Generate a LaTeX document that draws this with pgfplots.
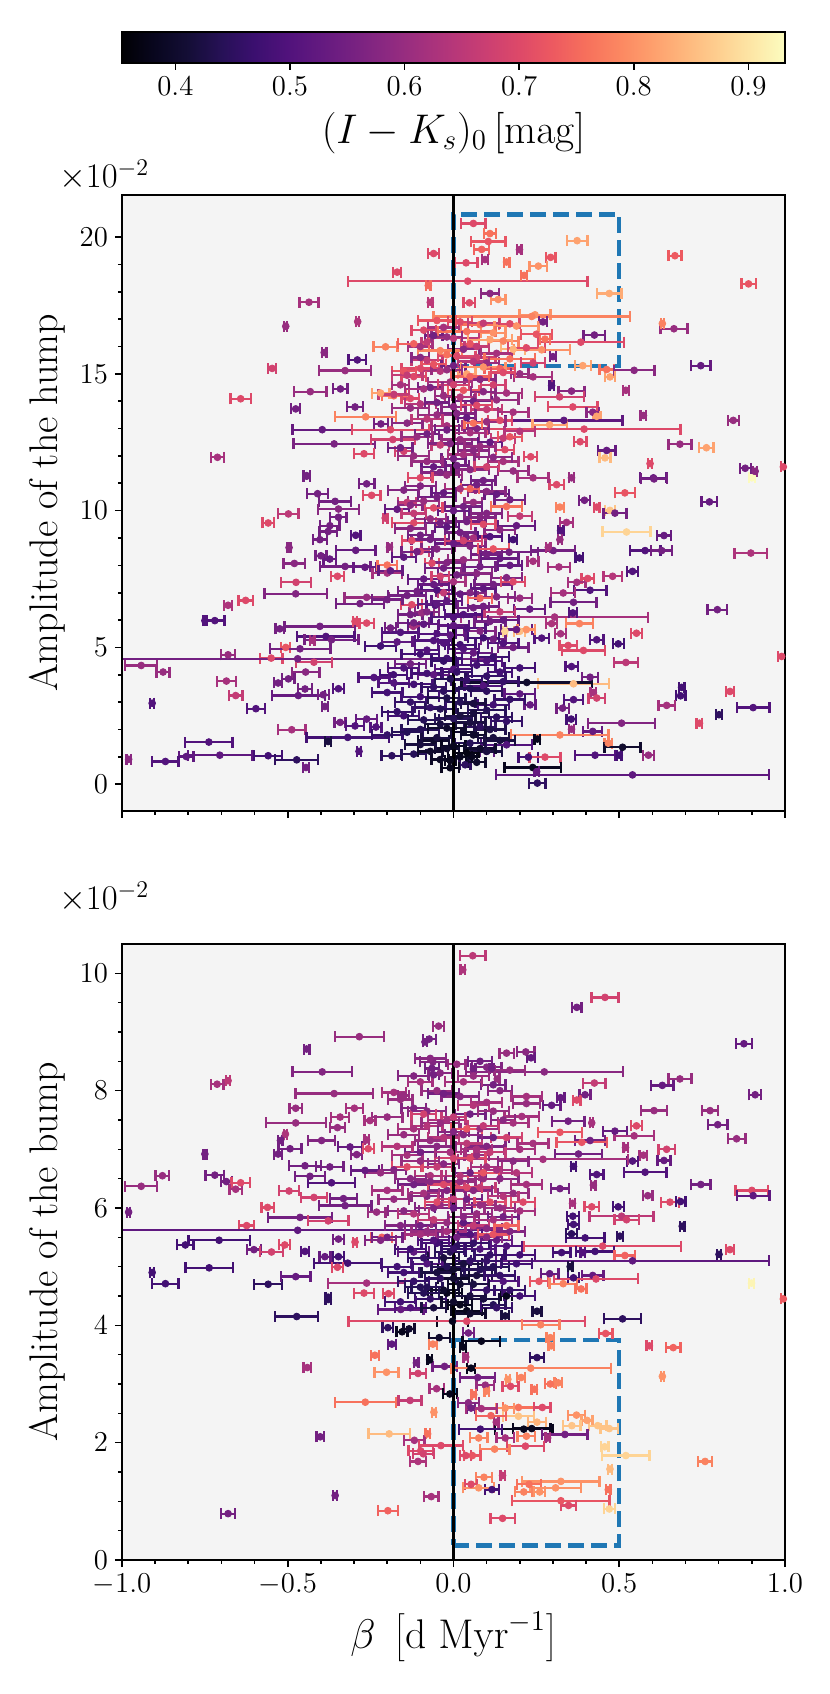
\documentclass[border=0pt]{standalone}
\usepackage{pgfplots}
\pgfplotsset{compat=1.18}
\usepackage{pgfplotstable}
\usetikzlibrary{arrows.meta}
\definecolor{bgc}{RGB}{244,244,244}
\definecolor{tabblue}{RGB}{31,119,180}
\pgfplotsset{colormap={magma}{
rgb=(0.001462,0.000466,0.013866) rgb=(0.034,0.027,0.122) rgb=(0.078815,0.054184,0.211667)
rgb=(0.151,0.066,0.340) rgb=(0.232077,0.059889,0.437695) rgb=(0.316654,0.071690,0.485380)
rgb=(0.390384,0.100379,0.501864) rgb=(0.468,0.131,0.507) rgb=(0.550287,0.161158,0.505719)
rgb=(0.633,0.188,0.494) rgb=(0.716387,0.214982,0.475290) rgb=(0.797,0.247,0.447)
rgb=(0.868793,0.287728,0.409303) rgb=(0.929,0.352,0.378) rgb=(0.967671,0.439703,0.359810)
rgb=(0.987,0.531,0.382) rgb=(0.994738,0.624350,0.427397) rgb=(0.997,0.719,0.490)
rgb=(0.995131,0.812384,0.564540) rgb=(0.992,0.904,0.652) rgb=(0.987053,0.991438,0.749504)}}
\pgfdeclarehorizontalshading{magmashade}{100bp}{
rgb(0bp)=(0.001462,0.000466,0.013866);
rgb(25bp)=(0.001462,0.000466,0.013866);
rgb(27.5bp)=(0.034,0.027,0.122);
rgb(30bp)=(0.078815,0.054184,0.211667);
rgb(32.5bp)=(0.151,0.066,0.340);
rgb(35bp)=(0.232077,0.059889,0.437695);
rgb(37.5bp)=(0.316654,0.071690,0.485380);
rgb(40bp)=(0.390384,0.100379,0.501864);
rgb(42.5bp)=(0.468,0.131,0.507);
rgb(45bp)=(0.550287,0.161158,0.505719);
rgb(47.5bp)=(0.633,0.188,0.494);
rgb(50bp)=(0.716387,0.214982,0.475290);
rgb(52.5bp)=(0.797,0.247,0.447);
rgb(55bp)=(0.868793,0.287728,0.409303);
rgb(57.5bp)=(0.929,0.352,0.378);
rgb(60bp)=(0.967671,0.439703,0.359810);
rgb(62.5bp)=(0.987,0.531,0.382);
rgb(65bp)=(0.994738,0.624350,0.427397);
rgb(67.5bp)=(0.997,0.719,0.490);
rgb(70bp)=(0.995131,0.812384,0.564540);
rgb(72.5bp)=(0.992,0.904,0.652);
rgb(75bp)=(0.987053,0.991438,0.749504);
rgb(100bp)=(0.987053,0.991438,0.749504)}

\pgfplotsset{
 myax/.style={
  scale only axis, width=331.5pt, height=308pt,
  xmin=-1, xmax=1,
  axis background/.style={fill=bgc},
  axis line style={line width=0.8pt},
  tick style={line width=0.8pt, black},
  major tick length=3.5pt, minor tick length=2pt,
  tick align=outside, xtick pos=left, ytick pos=left,
  xtick={-1,-0.5,0,0.5,1}, minor x tick num=4,
  tick label style={font=\fontsize{14.5}{17}\selectfont},
  label style={font=\fontsize{20}{24}\selectfont},
  point meta min=0.3534, point meta max=0.932,
  colormap name=magma,
  axis on top,
 },
 errbars/.style={
  quiver={u=2*\thisrow{e}, v=0, colored=mapped color},
  {Bar[width=5.5pt]}-{Bar[width=5.5pt]}, line width=1.15pt,
  point meta=explicit,
 },
 dots/.style={
  only marks, scatter, mark=*, mark size=1.7pt,
  point meta=explicit,
  scatter/use mapped color={draw=mapped color, fill=mapped color},
 },
}

\pgfplotstableread{
x e y c
-0.06 0.02 19.4 0.70
-0.17 0.015 18.72 0.70
0.043 0.365 18.39 0.70
-0.436 0.032 17.62 0.62
-0.506 0.008 16.74 0.60
-0.289 0.008 16.91 0.63
-0.07 0.01 17.62 0.65
-0.205 0.04 15.99 0.78
-0.39 0.01 15.78 0.58
-0.29 0.03 15.51 0.50
-0.547 0.015 15.2 0.68
-0.327 0.082 15.12 0.60
-0.432 0.052 14.35 0.60
-0.341 0.025 14.45 0.55
-0.642 0.034 14.09 0.70
-0.476 0.017 13.72 0.55
-0.297 0.028 13.79 0.55
-0.265 0.096 13.43 0.78
-0.396 0.093 12.96 0.53
-0.36 0.126 12.44 0.56
-0.27 0.033 12.08 0.70
-0.712 0.024 11.95 0.62
-0.443 0.013 11.28 0.55
-0.183 0.07 12.6 0.68
-0.219 0.025 13.17 0.55
-0.15 0.03 12.17 0.68
-0.19 0.12 12.96 0.70
-0.08 0.02 16.16 0.66
0.06 0.04 20.5 0.70
0.11 0.022 20.13 0.76
0.105 0.055 19.84 0.72
0.373 0.035 19.87 0.82
0.085 0.026 19.55 0.74
0.199 0.01 19.54 0.62
0.095 0.012 19.18 0.62
0.038 0.038 19.06 0.70
0.16 0.012 19.09 0.76
0.293 0.018 19.26 0.72
0.256 0.03 18.94 0.80
0.213 0.012 18.6 0.76
0.668 0.023 19.32 0.73
0.89 0.025 18.29 0.72
0.47 0.04 17.94 0.83
0.11 0.03 17.94 0.58
0.135 0.025 17.72 0.80
0.048 0.021 17.6 0.70
-0.076 0.01 18.23 0.75
0.246 0.05 17.16 0.80
0.236 0.3 17.1 0.78
0.17 0.033 16.83 0.70
0.27 0.015 16.9 0.55
0.665 0.044 16.65 0.60
0.63 0.008 16.84 0.78
0.425 0.036 16.42 0.55
0.384 0.133 16.16 0.70
0.276 0.018 16.27 0.76
0.266 0.088 15.88 0.80
0.3 0.012 15.63 0.55
0.39 0.028 15.3 0.82
0.462 0.025 15.16 0.76
0.545 0.065 15.13 0.58
0.746 0.033 15.3 0.53
0.472 0.018 14.89 0.82
0.24 0.06 14.89 0.62
0.52 0.012 14.4 0.62
0.356 0.043 14.37 0.58
0.296 0.01 14.57 0.50
0.32 0.078 14.16 0.68
0.36 0.078 13.79 0.70
0.42 0.022 13.6 0.58
0.432 0.015 13.45 0.82
0.573 0.012 13.48 0.60
0.844 0.02 13.3 0.60
0.333 0.18 13.3 0.52
0.29 0.055 13.14 0.82
0.394 0.294 12.98 0.70
0.382 0.023 12.52 0.70
0.462 0.03 12.2 0.53
0.457 0.02 11.93 0.85
0.683 0.038 12.43 0.60
0.763 0.025 12.3 0.82
0.593 0.01 11.72 0.70
0.233 0.023 11.97 0.70
0.155 0.03 12.23 0.70
0.88 0.02 11.55 0.55
0.9 0.012 11.2 0.93
0.91 0.01 11.44 0.58
0.603 0.043 11.2 0.53
0.995 0.01 11.6 0.70
-0.443 0.013 11.26 0.55
-0.262 0.027 10.98 0.55
-0.247 0.03 10.56 0.70
-0.41 0.035 10.62 0.55
-0.357 0.052 10.34 0.55
-0.498 0.034 9.88 0.65
-0.559 0.021 9.55 0.70
-0.347 0.065 10.06 0.58
-0.347 0.028 9.76 0.55
-0.373 0.033 9.45 0.55
-0.378 0.03 9.24 0.55
-0.295 0.018 9.1 0.50
-0.403 0.025 8.94 0.55
-0.496 0.008 8.65 0.58
-0.295 0.063 8.55 0.53
-0.193 0.01 8.67 0.60
-0.4 0.02 8.35 0.55
-0.373 0.023 8.23 0.53
-0.48 0.036 8.07 0.58
-0.327 0.08 7.96 0.55
-0.267 0.038 7.93 0.53
-0.2 0.033 8.01 0.76
-0.35 0.023 7.6 0.70
-0.475 0.048 7.38 0.68
-0.2 0.048 7.72 0.62
-0.476 0.098 6.96 0.57
-0.627 0.025 6.72 0.70
-0.68 0.015 6.54 0.63
-0.282 0.076 6.6 0.55
-0.262 0.07 6.83 0.60
-0.72 0.033 5.98 0.50
-0.75 0.008 5.98 0.50
-0.524 0.016 5.68 0.55
-0.403 0.11 5.77 0.55
-0.297 0.01 5.95 0.70
-0.262 0.025 5.89 0.70
-0.385 0.09 5.4 0.50
-0.426 0.01 5.26 0.62
-0.368 0.085 5.28 0.55
-0.506 0.017 5.0 0.72
-0.463 0.095 4.95 0.55
-0.68 0.025 4.73 0.60
-0.55 0.038 4.61 0.70
-0.47 0.6 4.585 0.55
-0.942 0.052 4.34 0.60
-0.876 0.023 4.1 0.60
-0.421 0.058 4.46 0.68
-0.446 0.045 4.1 0.58
-0.498 0.022 3.85 0.55
-0.685 0.032 3.77 0.62
-0.529 0.015 3.7 0.55
-0.657 0.024 3.24 0.66
-0.468 0.083 3.24 0.53
-0.448 0.025 3.48 0.55
-0.347 0.02 3.49 0.50
-0.393 0.02 3.27 0.55
-0.909 0.01 2.96 0.50
-0.596 0.03 2.76 0.50
-0.388 0.012 2.84 0.55
-0.488 0.045 1.99 0.62
-0.738 0.075 1.54 0.50
-0.319 0.128 1.71 0.48
-0.378 0.013 1.56 0.42
-0.705 0.1 1.06 0.52
-0.806 0.025 1.01 0.52
-0.869 0.043 0.83 0.50
-0.98 0.01 0.91 0.58
-0.559 0.046 1.04 0.48
-0.473 0.068 0.89 0.45
-0.445 0.012 0.61 0.55
-0.285 0.01 1.2 0.50
-0.186 0.035 1.04 0.45
-0.01 0.02 0.87 0.38
-0.342 0.02 2.26 0.55
-0.297 0.03 2.13 0.50
-0.234 0.02 2.09 0.50
-0.262 0.035 2.38 0.53
-0.126 0.033 8.91 0.70
-0.1 0.03 8.51 0.68
-0.12 0.07 9.55 0.70
-0.14 0.03 10.3 0.66
-0.206 0.01 9.73 0.68
-0.065 0.025 8.08 0.70
-0.126 0.035 6.56 0.70
-0.055 0.03 6.54 0.50
-0.096 0.04 6.26 0.60
-0.03 0.02 5.16 0.50
-0.03 0.02 7.0 0.66
-0.121 0.02 5.77 0.62
-0.181 0.045 4.0 0.48
-0.19 0.02 5.71 0.55
0.605 0.043 11.16 0.55
0.517 0.034 10.65 0.72
0.772 0.027 10.32 0.53
0.395 0.02 10.38 0.55
0.311 0.025 10.95 0.70
0.356 0.01 11.2 0.60
0.321 0.015 10.13 0.78
0.432 0.012 10.13 0.70
0.472 0.018 10.01 0.86
0.487 0.038 9.91 0.55
0.522 0.076 9.22 0.88
0.635 0.024 9.09 0.53
0.341 0.023 9.57 0.62
0.323 0.012 9.27 0.50
0.321 0.01 8.94 0.60
0.18 0.015 8.94 0.48
0.038 0.008 9.04 0.55
0.578 0.05 8.54 0.50
0.628 0.035 8.54 0.55
0.897 0.053 8.45 0.63
0.301 0.07 8.54 0.55
0.286 0.01 8.66 0.62
0.168 0.09 8.48 0.55
0.38 0.015 8.27 0.48
0.24 0.02 8.15 0.62
0.318 0.037 7.94 0.62
0.54 0.02 7.78 0.50
0.48 0.031 7.6 0.64
0.405 0.022 7.52 0.70
0.372 0.03 7.38 0.62
0.412 0.053 7.09 0.50
0.331 0.04 6.99 0.62
0.362 0.073 6.65 0.55
0.796 0.033 6.38 0.55
0.305 0.285 6.11 0.62
0.36 0.015 6.26 0.50
0.38 0.045 5.87 0.78
0.552 0.02 5.52 0.70
0.432 0.024 5.28 0.50
0.497 0.02 5.13 0.48
0.323 0.02 5.5 0.62
0.266 0.025 5.34 0.50
0.346 0.03 5.07 0.70
0.392 0.068 4.89 0.70
0.99 0.015 4.67 0.70
0.52 0.04 4.45 0.65
0.356 0.022 4.3 0.50
0.412 0.028 3.91 0.55
0.362 0.11 3.67 0.85
0.221 0.2 3.72 0.40
0.688 0.012 3.54 0.48
0.685 0.018 3.23 0.48
0.834 0.015 3.39 0.70
0.422 0.012 3.35 0.62
0.432 0.028 3.15 0.68
0.362 0.033 3.09 0.50
0.643 0.028 2.88 0.62
0.904 0.053 2.8 0.50
0.329 0.022 2.78 0.55
0.801 0.012 2.54 0.45
0.507 0.105 2.23 0.57
0.742 0.012 2.23 0.70
0.355 0.018 2.38 0.48
0.42 0.032 1.93 0.53
0.356 0.01 2.01 0.60
0.321 0.15 1.8 0.78
0.467 0.015 1.5 0.78
0.51 0.058 1.35 0.40
0.5 0.01 1.06 0.48
0.588 0.02 1.06 0.60
0.427 0.063 1.06 0.50
0.226 0.033 0.99 0.48
0.276 0.05 0.99 0.70
0.253 0.012 1.65 0.38
0.239 0.089 0.61 0.38
0.251 0.01 0.46 0.53
0.54 0.415 0.34 0.52
0.253 0.028 0.04 0.45
0.1 0.025 1.2 0.52
0.055 0.02 1.01 0.38
0.035 0.02 0.71 0.45
0.16 0.08 1.44 0.50
0.296 0.02 5.87 0.63
0.2 0.02 5.59 0.85
0.155 0.01 5.59 0.88
0.231 0.02 2.9 0.53
-0.22 0.03 14.3 0.82
-0.18 0.04 14.2 0.76
-0.13 0.03 14.1 0.70
-0.16 0.03 14.6 0.62
-0.1 0.06 15.2 0.70
-0.15 0.04 15.1 0.72
0.02 0.04 16.9 0.70
-0.03 0.05 16.7 0.62
0.08 0.06 16.8 0.76
0.12 0.04 16.5 0.80
-0.06 0.03 16.4 0.55
0.0 0.08 16.3 0.65
0.05 0.03 16.1 0.72
0.15 0.05 16.2 0.78
-0.1 0.04 16.0 0.62
0.03 0.05 15.9 0.58
0.18 0.04 15.9 0.84
-0.02 0.03 15.7 0.76
0.07 0.06 15.6 0.68
0.1 0.04 15.4 0.60
-0.08 0.05 15.5 0.66
0.0 0.04 15.3 0.55
0.14 0.05 15.2 0.74
-0.04 0.06 15.1 0.64
0.04 0.03 15.0 0.82
0.2 0.03 15.0 0.60
-0.12 0.04 14.9 0.70
0.08 0.05 14.8 0.58
-0.01 0.07 14.7 0.62
0.12 0.04 14.6 0.68
-0.07 0.04 14.5 0.56
0.03 0.05 14.4 0.72
0.16 0.05 14.3 0.62
-0.03 0.03 14.2 0.60
0.06 0.06 14.0 0.55
-0.1 0.05 13.9 0.64
0.0 0.04 13.8 0.58
0.1 0.05 13.7 0.66
-0.05 0.06 13.5 0.60
0.04 0.03 13.4 0.53
0.14 0.04 13.3 0.70
-0.14 0.05 13.2 0.58
-0.02 0.05 13.1 0.62
0.07 0.04 13.0 0.57
0.2 0.05 12.9 0.64
-0.08 0.04 12.8 0.55
0.02 0.06 12.6 0.60
0.11 0.04 12.5 0.53
-0.04 0.03 12.4 0.66
0.06 0.05 12.2 0.58
-0.12 0.05 12.0 0.60
0.0 0.04 11.9 0.55
0.15 0.05 11.8 0.62
-0.06 0.04 11.6 0.53
0.05 0.06 11.5 0.58
-0.02 0.05 11.3 0.60
0.09 0.04 11.1 0.55
-0.1 0.05 10.9 0.57
0.02 0.05 10.8 0.62
0.13 0.04 10.6 0.53
-0.05 0.06 10.5 0.55
0.06 0.03 10.3 0.60
-0.13 0.04 10.2 0.58
0.0 0.05 10.0 0.53
0.1 0.05 9.9 0.57
-0.07 0.05 9.7 0.60
0.04 0.06 9.6 0.55
-0.02 0.04 9.4 0.52
0.14 0.05 9.3 0.58
-0.1 0.04 9.1 0.55
0.06 0.04 9.0 0.62
0.0 0.06 8.8 0.53
-0.05 0.05 8.6 0.57
0.1 0.05 8.4 0.55
-0.15 0.04 8.3 0.52
0.03 0.05 8.2 0.60
0.17 0.04 8.0 0.53
-0.03 0.06 7.9 0.55
0.07 0.05 7.7 0.58
-0.09 0.05 7.5 0.53
0.0 0.04 7.4 0.62
0.12 0.06 7.3 0.55
-0.05 0.05 7.1 0.50
0.05 0.05 7.0 0.57
-0.14 0.06 6.9 0.55
0.2 0.04 6.8 0.60
-0.02 0.05 6.7 0.52
0.09 0.05 6.5 0.55
-0.08 0.04 6.3 0.57
0.03 0.06 6.2 0.50
0.15 0.05 6.0 0.53
-0.12 0.05 5.9 0.55
0.0 0.05 5.8 0.52
0.08 0.05 5.6 0.57
-0.05 0.06 5.5 0.50
0.12 0.04 5.3 0.55
-0.17 0.05 5.2 0.52
0.02 0.05 5.1 0.48
0.18 0.05 5.0 0.55
-0.08 0.04 4.9 0.50
0.06 0.06 4.8 0.53
-0.02 0.05 4.6 0.48
0.1 0.05 4.5 0.50
-0.13 0.05 4.4 0.55
0.0 0.06 4.2 0.50
0.14 0.04 4.1 0.48
-0.06 0.05 4.0 0.52
0.04 0.05 3.8 0.46
-0.18 0.05 3.7 0.50
0.09 0.06 3.6 0.50
-0.03 0.05 3.4 0.45
0.2 0.05 3.3 0.52
-0.1 0.06 3.2 0.48
0.02 0.05 3.0 0.44
0.12 0.05 2.9 0.48
-0.07 0.05 2.8 0.46
0.06 0.05 2.6 0.42
-0.15 0.05 2.5 0.48
0.0 0.06 2.4 0.44
0.16 0.05 2.3 0.46
-0.04 0.05 2.2 0.42
0.08 0.05 2.1 0.45
-0.1 0.06 2.0 0.44
0.03 0.04 1.9 0.40
-0.2 0.05 1.8 0.46
0.12 0.05 1.7 0.42
-0.06 0.05 1.6 0.40
0.05 0.05 1.5 0.44
-0.02 0.04 1.3 0.40
0.1 0.05 1.2 0.42
-0.12 0.04 1.1 0.44
0.02 0.04 1.0 0.38
0.07 0.03 0.8 0.40
-0.04 0.03 0.9 0.39
-0.05 0.06 16.95 0.72
0.09 0.05 16.85 0.66
0.19 0.07 16.75 0.80
-0.09 0.04 16.6 0.70
0.04 0.09 16.55 0.76
0.25 0.05 16.45 0.72
-0.02 0.05 16.35 0.60
0.11 0.07 16.25 0.82
-0.12 0.05 16.1 0.74
0.07 0.04 16.0 0.66
0.22 0.06 15.95 0.70
-0.04 0.07 15.85 0.78
0.13 0.05 15.75 0.62
0.01 0.06 15.65 0.70
-0.1 0.03 15.6 0.58
0.17 0.08 15.55 0.76
0.06 0.05 15.45 0.64
-0.06 0.04 15.35 0.72
0.24 0.04 15.4 0.68
0.09 0.07 15.25 0.80
-0.02 0.05 15.15 0.60
0.15 0.04 15.05 0.70
-0.14 0.05 14.95 0.66
0.05 0.06 14.9 0.74
0.0 0.05 14.6 0.68
-0.09 0.06 14.45 0.62
0.09 0.04 14.35 0.58
-0.18 0.05 14.25 0.66
0.02 0.05 14.15 0.64
0.13 0.07 14.05 0.60
-0.05 0.04 13.95 0.55
0.07 0.05 13.85 0.70
-0.13 0.06 13.75 0.60
0.18 0.05 13.6 0.62
0.01 0.06 13.55 0.57
-0.08 0.05 13.35 0.65
0.1 0.06 13.25 0.60
-0.02 0.04 12.95 0.55
0.05 0.05 12.85 0.62
-0.11 0.05 12.7 0.60
0.15 0.04 12.65 0.66
-0.01 0.07 12.45 0.57
0.08 0.05 12.35 0.60
-0.16 0.04 12.3 0.55
0.03 0.05 12.05 0.62
0.12 0.06 11.95 0.58
-0.08 0.05 11.8 0.60
0.01 0.04 11.65 0.55
0.18 0.05 11.45 0.60
-0.04 0.06 11.4 0.57
0.07 0.05 10.95 0.55
-0.15 0.05 10.75 0.57
0.1 0.06 10.7 0.58
-0.03 0.04 10.65 0.53
0.17 0.05 10.4 0.55
-0.09 0.05 10.35 0.60
0.03 0.06 10.15 0.55
-0.17 0.04 10.05 0.53
0.08 0.05 9.75 0.57
-0.04 0.05 9.55 0.55
0.19 0.06 9.45 0.53
-0.13 0.05 9.35 0.58
0.02 0.05 9.2 0.55
0.11 0.04 9.05 0.50
-0.07 0.06 8.95 0.55
0.05 0.05 8.7 0.57
-0.11 0.05 8.5 0.55
0.14 0.06 8.25 0.53
-0.02 0.05 8.1 0.57
0.08 0.05 7.95 0.55
-0.19 0.04 7.8 0.53
0.01 0.06 7.65 0.55
0.16 0.05 7.55 0.57
-0.06 0.05 7.3 0.53
0.09 0.04 7.15 0.52
-0.11 0.06 7.05 0.55
0.02 0.05 6.95 0.53
0.13 0.06 6.85 0.57
-0.2 0.05 6.75 0.55
-0.05 0.06 6.6 0.52
0.06 0.05 6.45 0.55
0.23 0.05 6.4 0.53
-0.13 0.04 6.2 0.55
0.0 0.07 6.1 0.50
0.11 0.05 5.95 0.55
-0.09 0.05 5.85 0.52
0.04 0.06 5.7 0.50
0.19 0.05 5.65 0.53
-0.16 0.06 5.55 0.50
-0.01 0.05 5.45 0.52
0.09 0.05 5.35 0.48
-0.06 0.06 5.25 0.50
0.15 0.05 5.15 0.50
-0.22 0.05 5.05 0.48
0.03 0.05 4.95 0.50
-0.1 0.06 4.75 0.48
0.12 0.05 4.65 0.47
-0.03 0.04 4.5 0.46
0.07 0.06 4.35 0.48
-0.15 0.05 4.25 0.50
0.2 0.05 4.25 0.48
0.01 0.05 4.1 0.46
-0.08 0.05 4.05 0.48
0.1 0.06 3.95 0.46
-0.24 0.05 3.9 0.50
-0.01 0.05 3.85 0.44
0.15 0.05 3.75 0.46
-0.12 0.06 3.65 0.48
0.05 0.05 3.5 0.44
-0.06 0.04 3.55 0.46
0.1 0.05 3.4 0.45
-0.2 0.05 3.35 0.48
-0.02 0.06 3.15 0.43
0.17 0.05 3.1 0.46
-0.13 0.05 3.0 0.46
0.06 0.04 2.95 0.42
-0.04 0.05 2.75 0.44
0.1 0.06 2.7 0.44
-0.17 0.05 2.65 0.46
0.02 0.05 2.5 0.42
0.13 0.05 2.45 0.45
-0.09 0.05 2.35 0.44
0.05 0.05 2.25 0.42
-0.02 0.06 2.05 0.40
0.11 0.05 2.0 0.43
-0.14 0.05 1.9 0.44
0.06 0.04 1.8 0.40
-0.05 0.05 1.7 0.42
0.14 0.05 1.6 0.42
-0.1 0.05 1.45 0.42
0.0 0.04 1.4 0.38
0.08 0.05 1.3 0.40
-0.07 0.04 1.2 0.40
0.04 0.04 1.15 0.37
-0.01 0.03 0.6 0.38
0.05 0.03 10.8 0.74
0.16 0.05 10.15 0.76
0.09 0.04 9.5 0.70
0.2 0.04 9.8 0.66
-0.06 0.03 10.1 0.70
0.03 0.06 8.9 0.68
0.12 0.05 8.6 0.72
-0.12 0.04 9.9 0.66
0.18 0.04 7.4 0.70
0.08 0.04 6.8 0.74
-0.04 0.03 7.6 0.68
0.22 0.03 5.65 0.80
0.14 0.05 6.3 0.66
-0.1 0.04 11.2 0.70
0.1 0.04 11.6 0.68
0.24 0.05 11.2 0.62
0.17 0.04 12.7 0.72
0.06 0.03 13.2 0.76
}\toptab

\pgfplotstableread{
x e y c
-0.045 0.02 9.1 0.60
-0.284 0.077 8.92 0.60
-0.073 0.023 8.88 0.55
-0.086 0.01 8.83 0.55
-0.443 0.012 8.71 0.55
-0.062 0.043 8.49 0.57
-0.065 0.025 8.38 0.55
-0.06 0.02 8.27 0.55
-0.396 0.093 8.32 0.57
-0.713 0.023 8.11 0.62
-0.68 0.01 8.17 0.65
-0.36 0.12 7.95 0.60
-0.18 0.04 7.97 0.62
-0.151 0.02 7.92 0.60
-0.476 0.022 7.7 0.60
-0.299 0.029 7.7 0.62
-0.476 0.094 7.45 0.60
-0.342 0.031 7.55 0.62
-0.252 0.02 7.49 0.62
-0.507 0.008 7.26 0.63
-0.35 0.027 7.37 0.60
-0.522 0.01 7.15 0.55
-0.398 0.045 7.15 0.57
-0.262 0.01 7.16 0.62
-0.493 0.038 7.01 0.55
-0.75 0.008 6.92 0.55
-0.529 0.015 6.92 0.55
-0.312 0.04 7.04 0.53
-0.292 0.02 6.91 0.57
-0.257 0.02 7.01 0.70
-0.448 0.052 6.72 0.55
-0.373 0.045 6.7 0.55
-0.267 0.045 6.64 0.53
-0.878 0.024 6.55 0.60
-0.942 0.052 6.37 0.60
-0.72 0.032 6.56 0.55
-0.685 0.02 6.45 0.55
-0.642 0.031 6.43 0.70
-0.657 0.022 6.32 0.62
-0.496 0.033 6.29 0.68
-0.433 0.048 6.54 0.55
-0.368 0.075 6.43 0.50
-0.421 0.043 6.18 0.68
-0.332 0.045 6.16 0.55
-0.327 0.083 6.04 0.55
-0.98 0.008 5.93 0.55
-0.561 0.022 6.01 0.70
-0.463 0.1 5.84 0.55
-0.378 0.065 5.78 0.68
-0.624 0.026 5.7 0.70
-0.232 0.03 5.93 0.60
-0.47 0.6 5.62 0.52
-0.707 0.096 5.45 0.48
-0.809 0.028 5.37 0.48
-0.602 0.025 5.29 0.55
-0.549 0.038 5.25 0.68
-0.509 0.02 5.37 0.70
-0.448 0.015 5.26 0.50
-0.347 0.02 5.47 0.55
-0.388 0.02 5.17 0.53
-0.347 0.02 5.17 0.48
-0.319 0.105 5.06 0.48
-0.35 0.02 4.99 0.70
-0.737 0.075 4.98 0.48
-0.909 0.01 4.9 0.48
-0.869 0.043 4.71 0.48
-0.559 0.046 4.7 0.45
-0.476 0.048 4.83 0.53
-0.262 0.12 4.72 0.62
-0.27 0.033 4.55 0.70
-0.196 0.02 4.54 0.70
-0.378 0.012 4.48 0.45
-0.216 0.035 5.5 0.74
-0.297 0.01 5.42 0.70
0.058 0.042 10.3 0.65
0.028 0.01 10.06 0.63
0.457 0.044 9.59 0.68
0.372 0.018 9.42 0.55
0.876 0.027 8.8 0.53
0.16 0.025 8.64 0.60
0.218 0.03 8.66 0.58
0.234 0.015 8.56 0.53
0.1 0.048 8.4 0.57
0.06 0.01 8.37 0.55
0.115 0.01 8.38 0.55
0.274 0.24 8.32 0.58
0.132 0.01 8.2 0.60
0.425 0.037 8.13 0.66
0.683 0.038 8.2 0.60
0.63 0.037 8.09 0.53
0.91 0.022 7.93 0.55
0.397 0.02 7.93 0.55
0.323 0.015 7.88 0.53
0.372 0.015 7.84 0.70
0.296 0.03 7.75 0.53
0.22 0.045 7.78 0.60
0.605 0.043 7.66 0.60
0.774 0.027 7.66 0.60
0.206 0.056 7.56 0.62
0.346 0.053 7.48 0.55
0.417 0.008 7.45 0.62
0.552 0.02 7.4 0.70
0.797 0.033 7.42 0.55
0.487 0.04 7.31 0.53
0.545 0.063 7.23 0.62
0.854 0.03 7.18 0.60
0.412 0.048 7.15 0.55
0.387 0.08 7.12 0.72
0.321 0.07 7.29 0.72
0.643 0.028 7.0 0.68
0.519 0.01 7.03 0.62
0.573 0.015 6.9 0.62
0.54 0.02 6.8 0.50
0.635 0.023 6.81 0.53
0.377 0.075 6.92 0.55
0.27 0.26 6.83 0.62
0.578 0.068 6.61 0.50
0.362 0.012 6.71 0.48
0.432 0.024 6.57 0.50
0.422 0.01 6.39 0.60
0.746 0.033 6.4 0.55
0.9 0.053 6.3 0.70
0.904 0.053 6.21 0.52
0.586 0.018 6.21 0.60
0.653 0.031 6.1 0.70
0.685 0.018 6.11 0.48
0.497 0.02 6.02 0.48
0.359 0.01 6.08 0.62
0.321 0.03 6.33 0.55
0.417 0.025 6.02 0.70
0.507 0.1 5.86 0.65
0.522 0.04 5.8 0.68
0.36 0.022 5.86 0.48
0.362 0.02 5.72 0.48
0.69 0.01 5.69 0.45
0.502 0.012 5.52 0.45
0.397 0.062 5.49 0.48
0.356 0.02 5.56 0.45
0.45 0.24 5.35 0.70
0.427 0.06 5.26 0.48
0.326 0.03 5.24 0.48
0.39 0.01 5.24 0.50
0.834 0.015 5.29 0.70
0.801 0.01 5.21 0.45
0.517 0.035 5.19 0.74
0.54 0.415 5.1 0.52
0.352 0.01 5.0 0.42
0.42 0.036 4.85 0.53
0.362 0.02 4.81 0.48
0.43 0.13 4.79 0.70
0.258 0.03 4.75 0.72
0.331 0.045 4.71 0.78
0.385 0.02 4.62 0.76
0.899 0.012 4.72 0.92
0.16 0.02 4.5 0.38
0.29 0.03 4.88 0.53
0.995 0.01 4.45 0.73
-0.378 0.012 4.44 0.45
-0.473 0.068 4.15 0.45
-0.159 0.072 4.27 0.53
0.252 0.017 4.24 0.42
0.156 0.015 4.16 0.42
0.51 0.06 4.11 0.45
-0.003 0.05 4.07 0.38
0.04 0.36 4.07 0.70
0.263 0.06 4.01 0.78
-0.198 0.02 3.96 0.45
-0.134 0.02 3.94 0.40
-0.155 0.02 3.89 0.38
0.459 0.024 3.86 0.72
0.045 0.02 3.87 0.55
-0.043 0.035 3.79 0.40
0.084 0.06 3.73 0.38
0.292 0.015 3.79 0.78
0.295 0.012 3.65 0.78
-0.186 0.015 3.68 0.52
-0.062 0.015 3.68 0.78
0.029 0.012 3.63 0.38
0.591 0.012 3.65 0.70
0.663 0.025 3.62 0.74
-0.237 0.015 3.49 0.76
-0.072 0.01 3.41 0.38
0.037 0.01 3.46 0.62
0.252 0.025 3.45 0.45
-0.112 0.01 3.36 0.55
-0.441 0.015 3.28 0.62
-0.027 0.04 3.3 0.55
0.053 0.015 3.27 0.38
0.233 0.245 3.27 0.78
-0.202 0.04 3.2 0.80
-0.107 0.028 3.18 0.68
0.63 0.008 3.13 0.80
0.073 0.056 3.11 0.55
0.164 0.01 3.08 0.80
0.204 0.015 3.11 0.78
0.096 0.03 2.98 0.60
0.172 0.028 2.96 0.70
0.244 0.012 2.91 0.76
0.292 0.02 3.0 0.76
0.316 0.015 3.02 0.78
-0.051 0.025 2.92 0.62
-0.011 0.025 2.83 0.38
0.061 0.01 2.82 0.76
0.1 0.01 2.88 0.78
-0.266 0.095 2.69 0.76
-0.131 0.038 2.72 0.66
0.045 0.035 2.68 0.58
0.053 0.015 2.59 0.55
0.196 0.05 2.6 0.76
0.268 0.028 2.6 0.70
0.156 0.03 2.59 0.80
0.084 0.05 2.58 0.62
-0.059 0.01 2.52 0.80
0.196 0.05 2.45 0.86
0.113 0.048 2.46 0.74
0.371 0.03 2.47 0.80
0.403 0.02 2.38 0.82
0.129 0.01 2.35 0.62
0.252 0.03 2.35 0.84
0.357 0.03 2.29 0.86
0.435 0.03 2.29 0.86
0.47 0.03 2.24 0.86
0.212 0.09 2.23 0.38
0.236 0.06 2.24 0.38
0.081 0.068 2.23 0.48
0.336 0.072 2.14 0.55
-0.194 0.066 2.15 0.85
-0.078 0.01 2.15 0.76
-0.402 0.015 2.1 0.55
0.284 0.01 2.08 0.62
0.076 0.03 2.08 0.78
0.156 0.03 2.08 0.62
0.22 0.03 2.11 0.78
-0.118 0.034 2.04 0.62
-0.038 0.07 1.95 0.70
0.217 0.06 1.94 0.70
0.456 0.015 1.93 0.88
0.124 0.048 1.89 0.78
-0.099 0.04 1.86 0.70
-0.091 0.035 1.81 0.68
0.52 0.075 1.78 0.88
0.057 0.028 1.78 0.72
0.037 0.02 1.78 0.70
0.759 0.025 1.68 0.78
-0.107 0.028 1.68 0.63
0.472 0.01 1.55 0.85
0.148 0.01 1.44 0.66
0.092 0.028 1.41 0.78
0.324 0.12 1.34 0.80
0.053 0.022 1.29 0.70
0.228 0.04 1.29 0.76
0.116 0.025 1.2 0.48
0.076 0.05 1.23 0.80
0.467 0.01 1.2 0.76
0.308 0.08 1.23 0.80
0.212 0.03 1.16 0.78
0.26 0.02 1.16 0.80
-0.357 0.01 1.1 0.55
-0.067 0.025 1.08 0.62
0.324 0.15 1.01 0.72
0.347 0.027 0.93 0.70
0.47 0.02 0.87 0.88
-0.68 0.025 0.79 0.55
-0.198 0.034 0.84 0.74
0.148 0.04 0.71 0.70
-0.05 0.05 8.0 0.60
0.02 0.06 7.9 0.58
0.1 0.05 7.8 0.62
-0.12 0.04 7.7 0.57
0.05 0.05 7.6 0.55
-0.02 0.06 7.5 0.62
0.15 0.04 7.5 0.58
-0.08 0.05 7.4 0.64
0.08 0.06 7.35 0.60
0.0 0.05 7.3 0.57
-0.15 0.05 7.25 0.60
0.12 0.05 7.2 0.55
0.04 0.05 7.1 0.65
-0.05 0.06 7.05 0.58
0.2 0.05 7.0 0.62
-0.1 0.05 6.95 0.55
0.07 0.04 6.9 0.60
0.0 0.06 6.85 0.68
-0.03 0.05 6.75 0.58
0.1 0.05 6.7 0.62
-0.18 0.04 6.65 0.57
0.05 0.05 6.6 0.55
-0.07 0.05 6.55 0.63
0.14 0.06 6.5 0.58
0.02 0.05 6.45 0.60
-0.12 0.05 6.4 0.55
0.08 0.05 6.35 0.66
-0.02 0.06 6.3 0.57
0.18 0.05 6.25 0.60
-0.08 0.05 6.2 0.58
0.04 0.05 6.15 0.55
0.11 0.05 6.1 0.70
-0.04 0.05 6.05 0.60
0.0 0.06 6.0 0.53
-0.15 0.05 5.95 0.58
0.07 0.05 5.9 0.60
0.15 0.05 5.85 0.55
-0.06 0.05 5.8 0.66
0.03 0.05 5.75 0.52
-0.1 0.05 5.7 0.55
0.1 0.05 5.65 0.58
-0.02 0.06 5.6 0.62
0.05 0.04 5.55 0.50
-0.2 0.05 5.5 0.55
0.13 0.05 5.45 0.53
-0.05 0.05 5.4 0.48
0.01 0.05 5.35 0.45
0.08 0.05 5.3 0.50
-0.12 0.05 5.25 0.52
0.2 0.05 5.2 0.48
-0.03 0.05 5.15 0.42
0.05 0.05 5.1 0.46
-0.08 0.05 5.05 0.50
0.12 0.05 5.0 0.44
0.0 0.05 4.95 0.40
-0.15 0.05 4.9 0.48
0.07 0.05 4.85 0.42
-0.04 0.05 4.8 0.45
0.15 0.05 4.75 0.50
0.02 0.04 4.7 0.40
-0.1 0.05 4.65 0.44
0.1 0.05 4.6 0.46
-0.02 0.05 4.55 0.38
0.05 0.05 4.5 0.42
-0.07 0.05 4.45 0.46
0.0 0.04 4.4 0.40
0.12 0.04 4.35 0.44
-0.13 0.05 4.3 0.50
0.04 0.05 4.25 0.38
-0.04 0.04 8.3 0.58
0.06 0.05 8.25 0.60
0.12 0.04 8.1 0.55
-0.1 0.04 8.15 0.62
0.01 0.03 8.45 0.60
-0.07 0.05 8.55 0.58
0.08 0.04 8.5 0.55
0.17 0.05 8.35 0.60
-0.12 0.05 8.25 0.57
0.03 0.06 8.15 0.62
0.14 0.04 8.0 0.58
-0.03 0.05 7.95 0.55
0.22 0.05 7.9 0.62
-0.16 0.04 7.85 0.60
0.06 0.05 7.75 0.64
-0.08 0.06 7.65 0.58
0.12 0.05 7.65 0.60
0.0 0.04 7.55 0.66
-0.2 0.05 7.55 0.60
0.18 0.05 7.45 0.62
-0.04 0.06 7.45 0.60
0.09 0.05 7.4 0.66
-0.12 0.05 7.35 0.62
0.03 0.06 7.25 0.58
0.16 0.05 7.2 0.68
-0.07 0.05 7.15 0.60
0.24 0.05 7.1 0.62
-0.17 0.05 7.05 0.64
0.1 0.06 7.05 0.57
-0.01 0.05 6.95 0.62
0.05 0.05 6.85 0.70
-0.1 0.06 6.8 0.60
0.18 0.05 6.8 0.58
-0.05 0.05 6.7 0.66
0.13 0.05 6.65 0.62
-0.22 0.05 6.6 0.60
0.02 0.06 6.55 0.64
0.09 0.05 6.5 0.60
-0.13 0.05 6.5 0.58
-0.03 0.05 6.4 0.70
0.22 0.05 6.4 0.62
0.06 0.06 6.3 0.58
-0.09 0.05 6.25 0.62
0.15 0.05 6.2 0.64
-0.18 0.05 6.15 0.60
0.0 0.05 6.15 0.66
0.08 0.05 6.05 0.60
-0.06 0.06 6.0 0.57
0.2 0.05 5.95 0.62
-0.12 0.05 5.9 0.64
0.03 0.05 5.85 0.58
0.12 0.06 5.8 0.62
-0.02 0.05 5.75 0.60
-0.16 0.05 5.7 0.57
0.06 0.05 5.7 0.66
0.17 0.05 5.6 0.57
-0.08 0.05 5.6 0.60
0.01 0.06 5.5 0.55
0.1 0.05 5.5 0.58
-0.22 0.05 5.45 0.57
-0.03 0.05 7.2 0.64
0.07 0.05 7.0 0.62
-0.14 0.05 6.9 0.62
0.11 0.05 6.95 0.66
0.04 0.05 6.35 0.70
-0.07 0.05 6.45 0.58
0.14 0.05 6.0 0.60
-0.1 0.05 5.55 0.62
0.19 0.05 6.6 0.64
-0.2 0.05 6.3 0.62
-0.06 0.05 5.45 0.50
0.06 0.05 5.4 0.46
0.16 0.05 5.35 0.50
-0.13 0.05 5.3 0.48
-0.01 0.05 5.25 0.44
0.11 0.05 5.2 0.46
-0.09 0.05 5.15 0.46
0.03 0.06 5.05 0.42
0.19 0.05 5.05 0.48
-0.17 0.05 5.0 0.48
0.08 0.05 4.95 0.44
-0.05 0.05 4.9 0.42
0.14 0.05 4.85 0.46
0.0 0.05 4.8 0.40
-0.12 0.05 4.75 0.46
0.06 0.05 4.7 0.42
-0.03 0.05 4.6 0.40
0.17 0.05 4.6 0.46
-0.09 0.05 4.55 0.44
0.09 0.05 4.45 0.42
0.02 0.04 4.35 0.38
-0.06 0.04 4.3 0.42
0.13 0.05 4.3 0.46
-0.16 0.05 4.4 0.48
0.05 0.05 4.2 0.40
-0.02 0.05 5.0 0.44
0.1 0.05 5.1 0.46
-0.08 0.05 4.65 0.44
0.2 0.05 4.5 0.48
0.0 0.04 5.3 0.46
0.09 0.05 6.6 0.72
-0.05 0.04 6.1 0.70
0.16 0.04 5.7 0.74
-0.14 0.05 6.7 0.70
0.04 0.05 7.35 0.72
0.21 0.04 6.1 0.70
-0.09 0.04 7.6 0.68
0.12 0.05 5.55 0.72
}\bottab

\begin{document}
\begin{tikzpicture}
\path[use as bounding box] (-61pt,-67pt) rectangle (354pt,780pt);

% colorbar
\begin{axis}[at={(0pt,748.5pt)}, anchor=south west, scale only axis,
  width=331.5pt, height=15.5pt, xmin=0.3534, xmax=0.932, ymin=0, ymax=1,
  ytick=\empty, xtick={0.4,0.5,0.6,0.7,0.8,0.9}, tick align=outside,
  xtick pos=left, major tick length=3.5pt,
  axis line style={line width=0.8pt}, tick style={line width=0.8pt, black},
  tick label style={font=\fontsize{14.5}{17}\selectfont},
  xticklabel style={/pgf/number format/fixed, /pgf/number format/precision=1, /pgf/number format/fixed zerofill},
  xlabel={$(I-K_s)_0\,[\mathrm{mag}]$},
  xlabel style={font=\fontsize{20}{24}\selectfont, at={(axis description cs:0.5,-2.26)}, anchor=center},
  axis on top]
\shade[shading=magmashade] (axis cs:0.3534,0) rectangle (axis cs:0.932,1);
\end{axis}

% top panel
\begin{axis}[myax, at={(0pt,374.5pt)}, anchor=south west,
  ymin=-0.98, ymax=21.54, ytick={0,5,10,15,20}, minor y tick num=4,
  xticklabels={},
  ylabel={Amplitude of the hump},
  ylabel style={at={(axis description cs:-0.113,0.5)}, anchor=center}]
\addplot[draw=tabblue, line width=2.2pt, dash pattern=on 8pt off 3.5pt, line join=miter] coordinates {(0,15.28) (0.5,15.28) (0.5,20.83) (0,20.83) (0,15.28)};
\addplot[errbars] table[x expr=\thisrow{x}-\thisrow{e}, y=y, meta=c] {\toptab};
\addplot[dots] table[x=x, y=y, meta=c] {\toptab};
\addplot[black, line width=1.35pt] coordinates {(0,-5) (0,30)};
\end{axis}

% bottom panel
\begin{axis}[myax, at={(0pt,0pt)}, anchor=south west,
  ymin=0, ymax=10.5, ytick={0,2,4,6,8,10}, minor y tick num=3,
  xticklabel style={/pgf/number format/fixed, /pgf/number format/precision=1, /pgf/number format/fixed zerofill},
  ylabel={Amplitude of the bump},
  ylabel style={at={(axis description cs:-0.113,0.5)}, anchor=center},
  xlabel={$\beta\ \left[\mathrm{d\ Myr}^{-1}\right]$},
  xlabel style={at={(axis description cs:0.5,-0.125)}, anchor=center}]
\addplot[draw=tabblue, line width=2.2pt, dash pattern=on 8pt off 3.5pt, line join=miter] coordinates {(0,0.25) (0.5,0.25) (0.5,3.75) (0,3.75) (0,0.25)};
\addplot[errbars] table[x expr=\thisrow{x}-\thisrow{e}, y=y, meta=c] {\bottab};
\addplot[dots] table[x=x, y=y, meta=c] {\bottab};
\addplot[black, line width=1.35pt] coordinates {(0,-5) (0,30)};
\end{axis}

\node[anchor=base west, font=\fontsize{16.5}{19}\selectfont] at (-35pt,686pt) {$\times10^{-2}$};
\node[anchor=base west, font=\fontsize{16.5}{19}\selectfont] at (-35pt,325pt) {$\times10^{-2}$};
\end{tikzpicture}
\end{document}
